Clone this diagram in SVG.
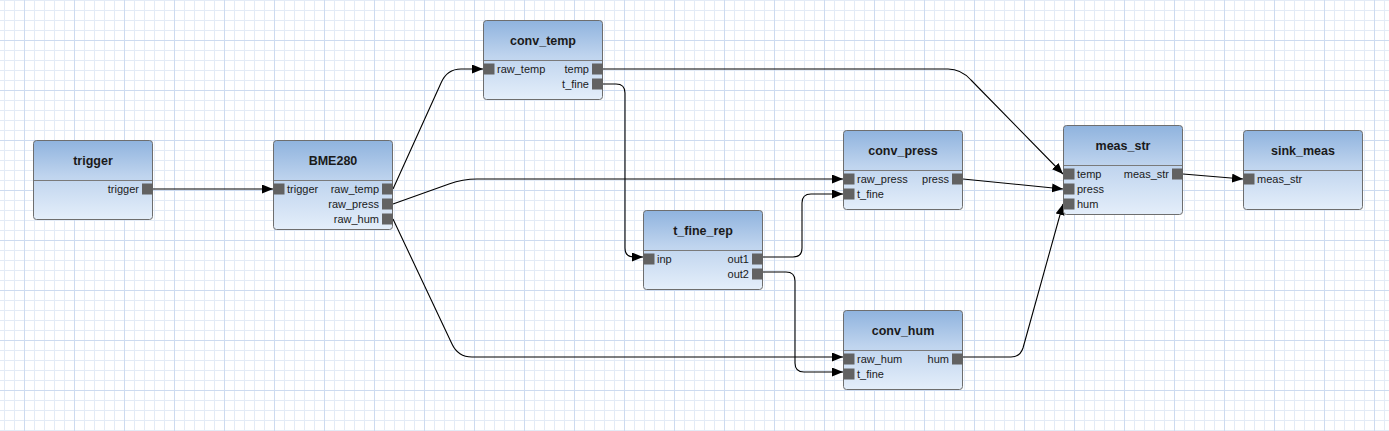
<svg xmlns="http://www.w3.org/2000/svg" width="1389" height="431" viewBox="0 0 1389 431">
<style>
.box{fill:url(#ng);stroke:#6e6e6e;stroke-width:1}
.sep{stroke:#7a7a7a;stroke-width:1}
.port{fill:#626262}
.title{font-family:"Liberation Sans",Arial,sans-serif;font-size:12.5px;font-weight:bold;fill:#1a1a1a;text-anchor:middle}
.lbl{font-family:"Liberation Sans",Arial,sans-serif;font-size:11px;fill:#1a1a1a}
.r{text-anchor:end}
.conn path{fill:none;stroke:#000;stroke-width:1.1;marker-end:url(#arr)}
</style>
<defs>
<linearGradient id="ng" x1="0" y1="0" x2="0" y2="1">
<stop offset="0" stop-color="#8fb3de"/>
<stop offset="0.45" stop-color="#bfd4ee"/>
<stop offset="1" stop-color="#e4eefa"/>
</linearGradient>
<pattern id="grid" patternUnits="userSpaceOnUse" x="24" y="40" width="50" height="50">
<rect width="50" height="50" fill="#ffffff"/>
<path d="M10.5 0V50M20.5 0V50M30.5 0V50M40.5 0V50M0 10.5H50M0 20.5H50M0 30.5H50M0 40.5H50" stroke="#e3ebf6" stroke-width="1"/>
<path d="M0.5 0V50M0 0.5H50" stroke="#cddbf0" stroke-width="1"/>
</pattern>
<marker id="arr" markerUnits="userSpaceOnUse" markerWidth="12" markerHeight="10" refX="11" refY="4.5" orient="auto">
<path d="M0,0 L11,4.5 L0,9 Z" fill="#000"/>
</marker>
</defs>
<rect width="1389" height="431" fill="url(#grid)"/>

<g id="connectors" class="conn">
<path d="M153,189 L273,189"/>
<path d="M393,189 L441,83 Q447,69 461,69 L483,69"/>
<path d="M393,204 L449,184 Q463,179 477,179 L843,179"/>
<path d="M393,219 L452,344 Q458,357 472,357 L843,357"/>
<path d="M603,69 L948,69 Q961,69 971,80 L1063,174"/>
<path d="M603,84 L616,84 Q625,84 625,93 L625,248 Q625,257 634,257 L643,257"/>
<path d="M763,257 L793,257 Q802,257 802,248 L802,203 Q802,194 811,194 L843,194"/>
<path d="M763,272 L786,272 Q795,272 795,281 L795,363 Q795,372 804,372 L843,372"/>
<path d="M963,179 L1063,189"/>
<path d="M963,357 L1011,357 Q1020,357 1023,348 L1063,204"/>
<path d="M1183,174 L1243,179"/>
</g>

<g id="trigger" transform="translate(33,140)">
<rect class="box" x="0.5" y="0.5" width="119" height="79" rx="3"/>
<line class="sep" x1="1" y1="40.5" x2="119" y2="40.5"/>
<text class="title" x="60" y="25">trigger</text>
<rect class="port" x="109" y="43.5" width="11" height="11"/>
<text class="lbl r" x="106" y="53">trigger</text>
</g>

<g id="BME280" transform="translate(273,140)">
<rect class="box" x="0.5" y="0.5" width="119" height="89" rx="3"/>
<line class="sep" x1="1" y1="40.5" x2="119" y2="40.5"/>
<text class="title" x="60" y="25">BME280</text>
<rect class="port" x="0.5" y="43.5" width="11" height="11"/>
<text class="lbl" x="14" y="53">trigger</text>
<rect class="port" x="109" y="43.5" width="11" height="11"/>
<text class="lbl r" x="106" y="53">raw_temp</text>
<rect class="port" x="109" y="58.5" width="11" height="11"/>
<text class="lbl r" x="106" y="68">raw_press</text>
<rect class="port" x="109" y="73.5" width="11" height="11"/>
<text class="lbl r" x="106" y="83">raw_hum</text>
</g>

<g id="conv_temp" transform="translate(483,20)">
<rect class="box" x="0.5" y="0.5" width="119" height="79" rx="3"/>
<line class="sep" x1="1" y1="40.5" x2="119" y2="40.5"/>
<text class="title" x="60" y="25">conv_temp</text>
<rect class="port" x="0.5" y="43.5" width="11" height="11"/>
<text class="lbl" x="14" y="53">raw_temp</text>
<rect class="port" x="109" y="43.5" width="11" height="11"/>
<text class="lbl r" x="106" y="53">temp</text>
<rect class="port" x="109" y="58.5" width="11" height="11"/>
<text class="lbl r" x="106" y="68">t_fine</text>
</g>

<g id="t_fine_rep" transform="translate(643,210)">
<rect class="box" x="0.5" y="0.5" width="119" height="79" rx="3"/>
<line class="sep" x1="1" y1="40.5" x2="119" y2="40.5"/>
<text class="title" x="60" y="25">t_fine_rep</text>
<rect class="port" x="0.5" y="43.5" width="11" height="11"/>
<text class="lbl" x="14" y="53">inp</text>
<rect class="port" x="109" y="43.5" width="11" height="11"/>
<text class="lbl r" x="106" y="53">out1</text>
<rect class="port" x="109" y="58.5" width="11" height="11"/>
<text class="lbl r" x="106" y="68">out2</text>
</g>

<g id="conv_press" transform="translate(843,130)">
<rect class="box" x="0.5" y="0.5" width="119" height="79" rx="3"/>
<line class="sep" x1="1" y1="40.5" x2="119" y2="40.5"/>
<text class="title" x="60" y="25">conv_press</text>
<rect class="port" x="0.5" y="43.5" width="11" height="11"/>
<text class="lbl" x="14" y="53">raw_press</text>
<rect class="port" x="0.5" y="58.5" width="11" height="11"/>
<text class="lbl" x="14" y="68">t_fine</text>
<rect class="port" x="109" y="43.5" width="11" height="11"/>
<text class="lbl r" x="106" y="53">press</text>
</g>

<g id="conv_hum" transform="translate(843,310)">
<rect class="box" x="0.5" y="0.5" width="119" height="79" rx="3"/>
<line class="sep" x1="1" y1="40.5" x2="119" y2="40.5"/>
<text class="title" x="60" y="25">conv_hum</text>
<rect class="port" x="0.5" y="43.5" width="11" height="11"/>
<text class="lbl" x="14" y="53">raw_hum</text>
<rect class="port" x="0.5" y="58.5" width="11" height="11"/>
<text class="lbl" x="14" y="68">t_fine</text>
<rect class="port" x="109" y="43.5" width="11" height="11"/>
<text class="lbl r" x="106" y="53">hum</text>
</g>

<g id="meas_str" transform="translate(1063,125)">
<rect class="box" x="0.5" y="0.5" width="119" height="89" rx="3"/>
<line class="sep" x1="1" y1="40.5" x2="119" y2="40.5"/>
<text class="title" x="60" y="25">meas_str</text>
<rect class="port" x="0.5" y="43.5" width="11" height="11"/>
<text class="lbl" x="14" y="53">temp</text>
<rect class="port" x="0.5" y="58.5" width="11" height="11"/>
<text class="lbl" x="14" y="68">press</text>
<rect class="port" x="0.5" y="73.5" width="11" height="11"/>
<text class="lbl" x="14" y="83">hum</text>
<rect class="port" x="109" y="43.5" width="11" height="11"/>
<text class="lbl r" x="106" y="53">meas_str</text>
</g>

<g id="sink_meas" transform="translate(1243,130)">
<rect class="box" x="0.5" y="0.5" width="119" height="79" rx="3"/>
<line class="sep" x1="1" y1="40.5" x2="119" y2="40.5"/>
<text class="title" x="60" y="25">sink_meas</text>
<rect class="port" x="0.5" y="43.5" width="11" height="11"/>
<text class="lbl" x="14" y="53">meas_str</text>
</g>
</svg>
